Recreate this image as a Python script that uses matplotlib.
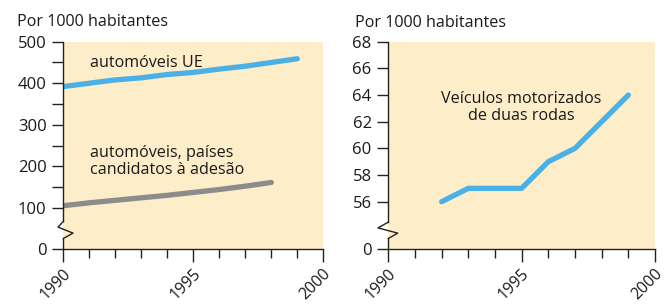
import matplotlib
matplotlib.use("Agg")
import matplotlib.pyplot as plt
from matplotlib.transforms import ScaledTranslation

plt.rcParams['font.family'] = ['Open Sans', 'DejaVu Sans']

# ---- data ----
years_eu = [1990, 1991, 1992, 1993, 1994, 1995, 1996, 1997, 1998, 1999]
cars_eu = [392, 400, 408, 413, 421, 426, 434, 441, 450, 459]
years_cand = [1990, 1991, 1992, 1993, 1994, 1995, 1996, 1997, 1998]
cars_cand = [105, 112, 118, 124, 130, 137, 144, 152, 161]
years_moto = [1992, 1993, 1994, 1995, 1996, 1997, 1998, 1999]
moto = [56, 57, 57, 57, 59, 60, 62, 64]

left_yticks = [0, 100, 200, 300, 400, 500]
left_yminor = [150, 250, 350, 450]
right_ytick_vals = [56, 58, 60, 62, 64, 66, 68]
right_ytick_labels = ['56', '58', '60', '62', '64', '66', '68']
xticks_major = [1990, 1995, 2000]
xticks_minor = list(range(1990, 2001))

BG = '#FDEDC9'
BLUE = '#4AB0E6'
GRAY = '#8C8C8C'
AX = '#222222'
TXT = '#1a1a1a'

W, H = 667, 304
fig = plt.figure(figsize=(W / 100, H / 100), dpi=100)

def frac_rect(x0, x1, ytop, ybot):
    return [x0 / W, 1 - ybot / H, (x1 - x0) / W, (ybot - ytop) / H]

axL = fig.add_axes(frac_rect(63.3, 323.3, 41.7, 249.3))
axR = fig.add_axes(frac_rect(388.3, 655, 41.7, 249.3))

def style(ax, zig):
    ax.set_facecolor(BG)
    for s in ['top', 'right', 'left']:
        ax.spines[s].set_visible(False)
    ax.spines['bottom'].set_color(AX)
    ax.spines['bottom'].set_linewidth(1.0)
    ax.set_xlim(1990, 2000)
    ax.set_xticks(xticks_major)
    ax.set_xticks(xticks_minor, minor=True)
    ax.tick_params(axis='x', which='major', length=9.5, width=1.0, color=AX,
                   labelsize=11.5, pad=2, labelcolor=TXT)
    ax.tick_params(axis='x', which='minor', length=6.5, width=1.0, color=AX)
    ax.tick_params(axis='y', which='both', length=8, width=1.0, color=AX,
                   labelsize=12, pad=4, labelcolor=TXT)
    ax.set_xticklabels([str(v) for v in xticks_major], rotation=45, ha='right', va='top')
    for lab in ax.get_xticklabels():
        lab.set_transform(lab.get_transform() + ScaledTranslation(11 / 100, 0, fig.dpi_scale_trans))
    # axis line with break zigzag
    zx, zy = zig
    ax.plot([0, 0], [1, zy[0]], color=AX, lw=1.0, transform=ax.transAxes, clip_on=False, zorder=5)
    ax.plot(zx, zy, color=AX, lw=1.0, transform=ax.transAxes, clip_on=False, zorder=5)
    ax.plot([0, 0], [zy[-1], 0], color=AX, lw=1.0, transform=ax.transAxes, clip_on=False, zorder=5)

# Left chart
axL.plot(years_eu, cars_eu, color=BLUE, lw=3.8, solid_capstyle='round', solid_joinstyle='round')
axL.plot(years_cand, cars_cand, color=GRAY, lw=3.8, solid_capstyle='round', solid_joinstyle='round')
axL.set_ylim(0, 500)
axL.set_yticks(left_yticks)
axL.set_yticks(left_yminor, minor=True)
style(axL, ([0, -0.0204, 0.0373, 0], [0.134, 0.107, 0.078, 0.052]))

# Right chart (broken axis: bottom tick stands for 0)
axR.plot(years_moto, moto, color=BLUE, lw=3.8, solid_capstyle='round', solid_joinstyle='round')
axR.set_ylim(52.43, 68)
axR.set_yticks([52.43] + right_ytick_vals)
axR.set_yticklabels(['0'] + right_ytick_labels)
style(axR, ([0, -0.0386, 0.0352, 0], [0.131, 0.103, 0.078, 0.052]))

# Texts
fs = 11.6
fig.text(17 / W, 1 - 25.7 / H, 'Por 1000 habitantes', fontsize=fs, color=TXT, va='baseline')
fig.text(355 / W, 1 - 26.7 / H, 'Por 1000 habitantes', fontsize=fs, color=TXT, va='baseline')
fig.text(90 / W, 1 - 67.3 / H, 'automóveis UE', fontsize=fs, color=TXT, va='baseline')
fig.text(90 / W, 1 - 174 / H, 'automóveis, países\ncandidatos à adesão', fontsize=fs,
         color=TXT, va='baseline', linespacing=1.12)
fig.text(521 / W, 1 - 120 / H, 'Veículos motorizados\nde duas rodas', fontsize=fs,
         color=TXT, va='baseline', ha='center', linespacing=1.12, multialignment='center')

fig.savefig('out.png', dpi=100)
